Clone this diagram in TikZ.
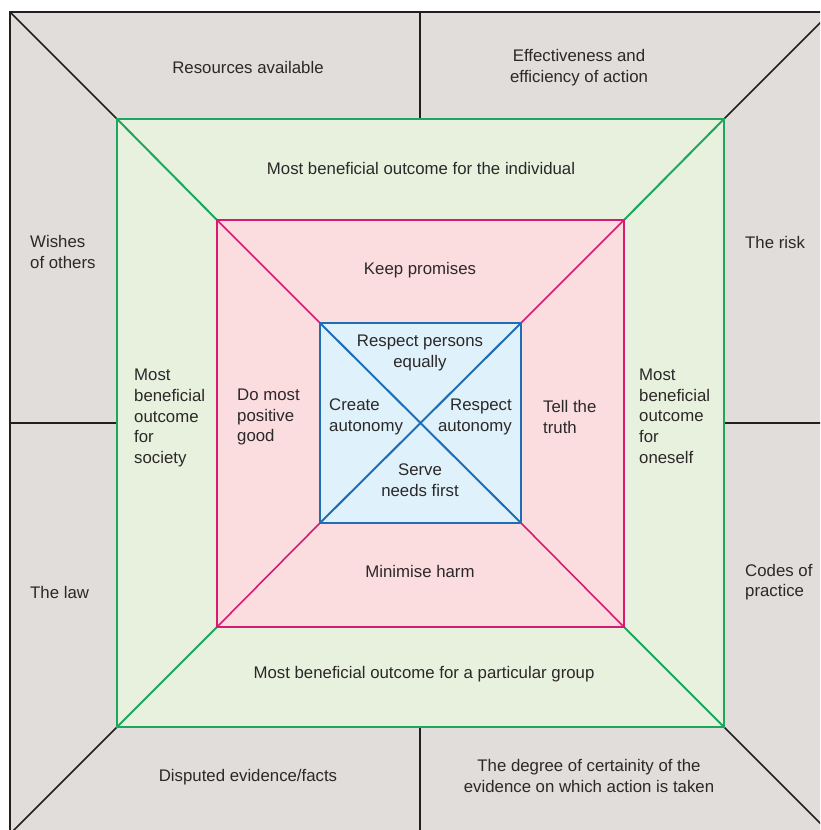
\documentclass[tikz,border=0pt]{standalone}
\usepackage{fontspec}
\setmainfont{Liberation Sans}
\definecolor{outerfill}{HTML}{E1DDDB}
\definecolor{greenfill}{HTML}{E8F1DE}
\definecolor{greenline}{HTML}{1DA75C}
\definecolor{pinkfill}{HTML}{FBDDE0}
\definecolor{pinkline}{HTML}{D81B72}
\definecolor{bluefill}{HTML}{DFF1FA}
\definecolor{blueline}{HTML}{1F6DB6}
\definecolor{blackline}{HTML}{231F20}
\definecolor{textcol}{HTML}{2B2829}
\begin{document}
\begin{tikzpicture}[x=1pt,y=-1pt,
  lbl/.style={font=\fontsize{16.8}{20.7}\selectfont, text=textcol, align=center, inner sep=0pt},
  lblL/.style={lbl, align=left, anchor=west},
  lblR/.style={lbl, align=right, anchor=east},
  blk/.style={draw=blackline, line width=1.5pt},
  grn/.style={draw=greenline, line width=2pt},
  pnk/.style={draw=pinkline, line width=1.6pt},
  blu/.style={draw=blueline, line width=2pt}]
\useasboundingbox (0,0) rectangle (820,830);
\clip (0,0) rectangle (820,830);
% corners
\coordinate (O1) at (10,12);  \coordinate (O2) at (831,12);
\coordinate (O3) at (831,834); \coordinate (O4) at (10,834);
\coordinate (G1) at (117,119); \coordinate (G2) at (724,119);
\coordinate (G3) at (724,727); \coordinate (G4) at (117,727);
\coordinate (P1) at (217,220); \coordinate (P2) at (624,220);
\coordinate (P3) at (624,627); \coordinate (P4) at (217,627);
\coordinate (B1) at (320,323); \coordinate (B2) at (521,323);
\coordinate (B3) at (521,523); \coordinate (B4) at (320,523);
% outer
\fill[outerfill] (O1) rectangle (O3);
\draw[blk] (O4) -- (O1) -- (O2) -- (O3) -- cycle;
\draw[blk] (O1) -- (G1) (O2) -- (G2) (O3) -- (G3) (O4) -- (G4);
\coordinate (MT1) at (420,12);  \coordinate (MT2) at (420,119);
\coordinate (MB1) at (420,727); \coordinate (MB2) at (420,834);
\coordinate (ML1) at (10,423);  \coordinate (ML2) at (117,423);
\coordinate (MR1) at (724,423); \coordinate (MR2) at (831,423);
\draw[blk] (MT1) -- (MT2) (MB1) -- (MB2) (ML1) -- (ML2) (MR1) -- (MR2);
% green
\fill[greenfill] (G1) rectangle (G3);
\draw[grn] (G1) -- (P1) (G2) -- (P2) (G3) -- (P3) (G4) -- (P4);
\draw[grn] (G1) -- (G2) -- (G3) -- (G4) -- cycle;
% pink
\fill[pinkfill] (P1) rectangle (P3);
\draw[pnk] (P1) -- (B1) (P2) -- (B2) (P3) -- (B3) (P4) -- (B4);
\draw[pnk] (P1) -- (P2) -- (P3) -- (P4) -- cycle;
% blue
\fill[bluefill] (B1) rectangle (B3);
\draw[blu] (B1) -- (B3) (B2) -- (B4);
\draw[blu] (B1) -- (B2) -- (B3) -- (B4) -- cycle;
% outer labels
\node[lbl] (resources) at (248,67) {Resources available};
\node[lbl] (effect) at (579,68) {Effectiveness and\\efficiency of action};
\node[lblL] (wishes) at (30,252) {Wishes\\of others};
\node[lblL] (law) at (30,592) {The law};
\node[lblL] (risk) at (745,242) {The risk};
\node[lblL] (codes) at (745,582) {Codes of\\practice};
\node[lbl] (disputed) at (248,777) {Disputed evidence/facts};
\node[lbl] (degree) at (589,776) {The degree of certainity of the\\evidence on which action is taken};
% green labels
\node[lbl] (individual) at (421,168) {Most beneficial outcome for the individual};
\node[lblL] (society) at (134,418) {Most\\beneficial\\outcome\\for\\society};
\node[lblL] (oneself) at (639,416) {Most\\beneficial\\outcome\\for\\oneself};
\node[lbl] (group) at (424,674) {Most beneficial outcome for a particular group};
% pink labels
\node[lbl] (promises) at (420,270) {Keep promises};
\node[lblL] (good) at (237,417) {Do most\\positive\\good};
\node[lblL] (truth) at (543,417) {Tell the\\truth};
\node[lbl] (harm) at (420,571) {Minimise harm};
% blue labels
\node[lbl] (persons) at (420,353) {Respect persons\\equally};
\node[lblL] (create) at (329,417) {Create\\autonomy};
\node[lblR] (respaut) at (512,417) {Respect\\autonomy};
\node[lbl] (serve) at (420,480) {Serve\\needs first};
\end{tikzpicture}
\end{document}
